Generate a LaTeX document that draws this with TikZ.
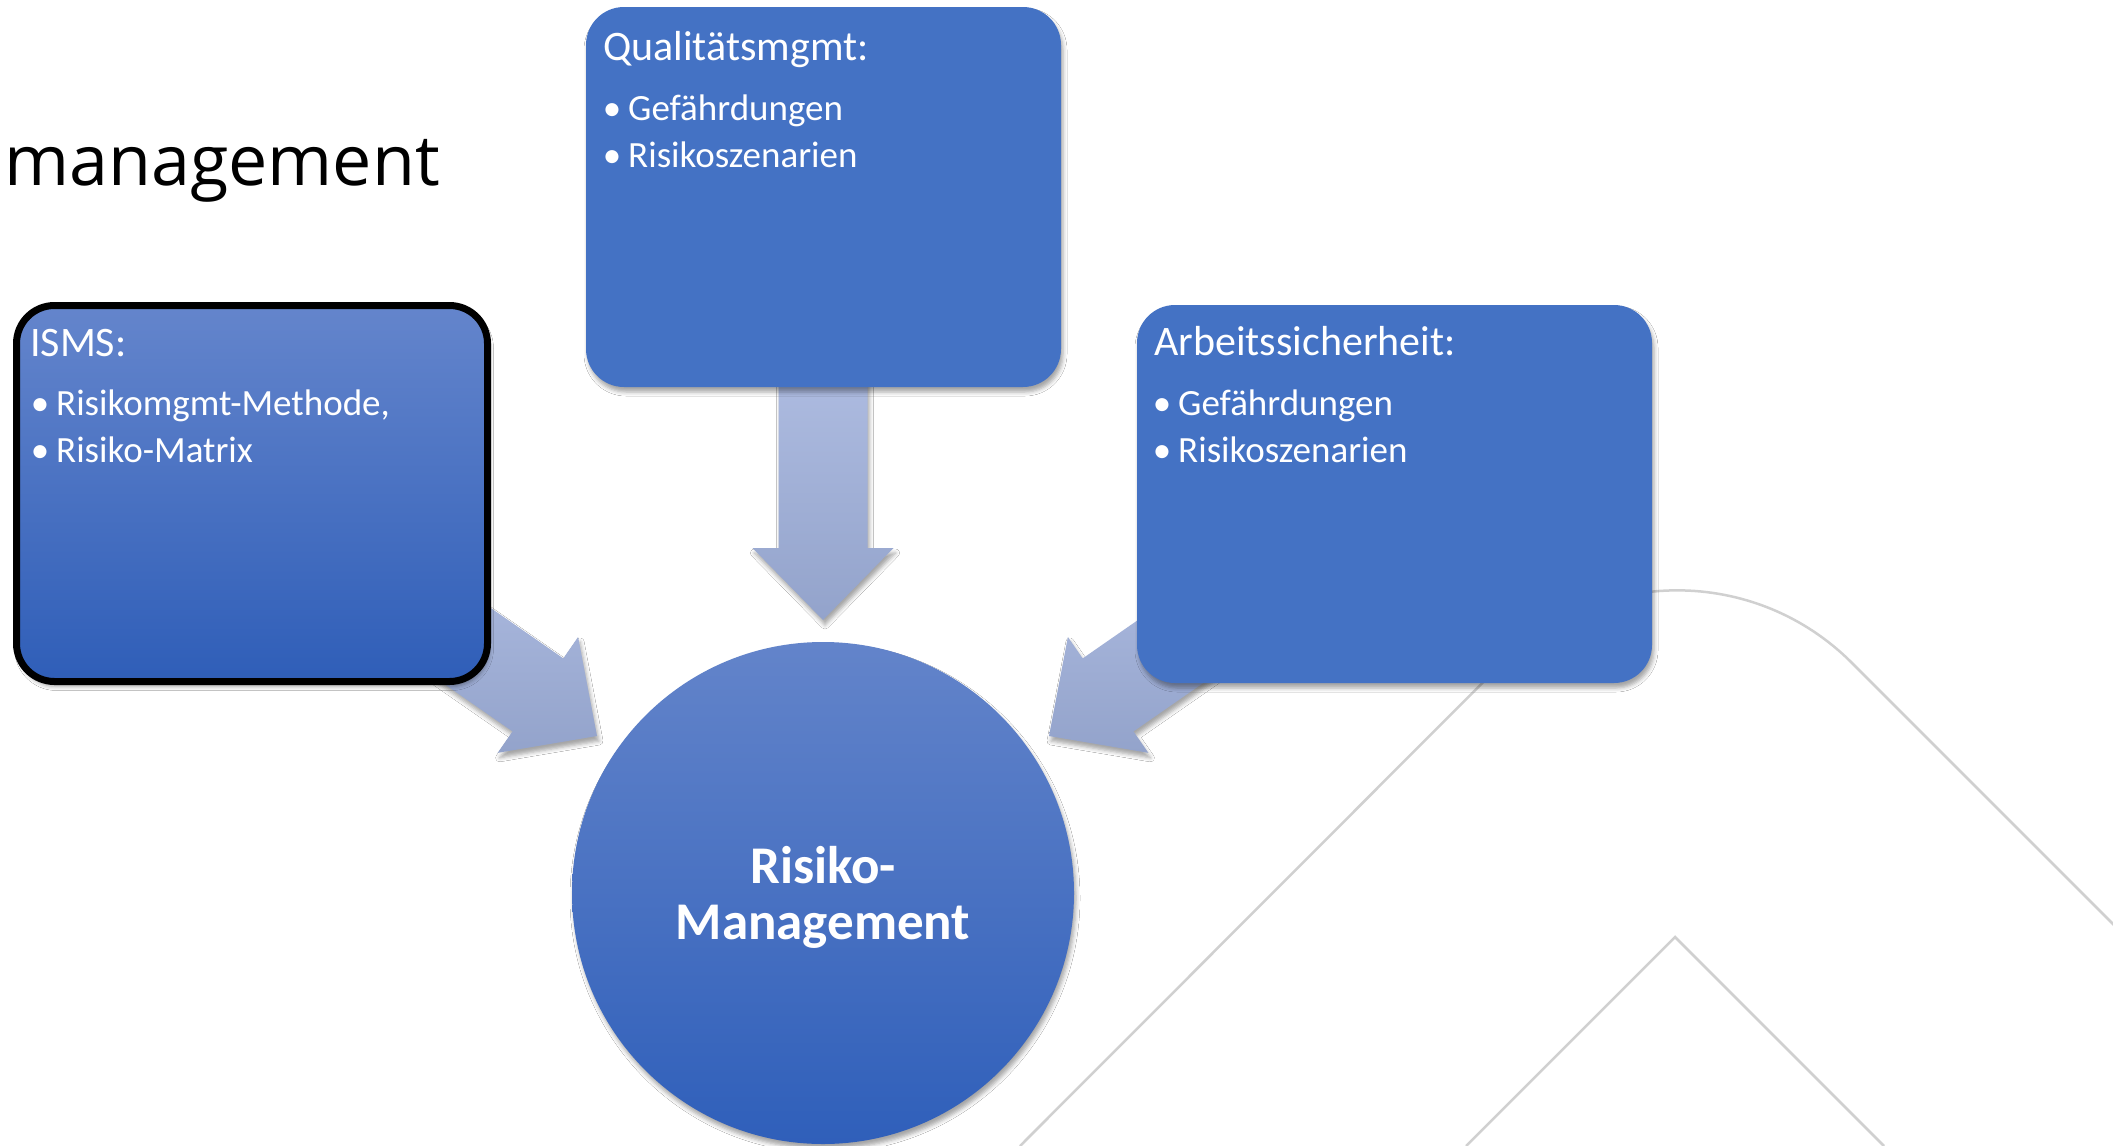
\documentclass[tikz,border=0pt]{standalone}
\usepackage{fontspec}
\setmainfont{Carlito}
\newfontfamily\titlefont{Open Sans}
\usetikzlibrary{shadows.blur}
\definecolor{pblue}{HTML}{4472C4}
\definecolor{gtop}{HTML}{6485CC}
\definecolor{gbot}{HTML}{2F5EB8}
\definecolor{ctop}{HTML}{6384CA}
\definecolor{cbot}{HTML}{2F5FBA}
\definecolor{atop}{HTML}{ADBBE0}
\definecolor{abot}{HTML}{93A3CB}
\definecolor{bgline}{HTML}{D0D0D0}
\newcommand\itembul{\makebox[0pt]{\textbullet}\hspace{16pt}}
\begin{document}
\begin{tikzpicture}[x=1pt,y=-1pt,
  softshadow/.style={blur shadow={shadow xshift=2pt,shadow yshift=-5pt,shadow blur radius=4pt,shadow opacity=35}},
  boxbase/.style={rectangle,rounded corners=38pt,inner sep=0pt,softshadow},
  plainbox/.style={boxbase,fill=pblue},
  gradbox/.style={boxbase,draw=black,line width=7pt,top color=gtop,bottom color=gbot},
  hub/.style={circle,inner sep=0pt,minimum size=502pt,top color=ctop,bottom color=cbot,softshadow},
  blockarrow/.style={top color=atop,bottom color=abot,softshadow},
  bgpath/.style={draw=bgline,line width=2.5pt},
  headtxt/.style={font=\fontsize{42}{50}\selectfont,text=white,inner sep=0pt,anchor=base west},
  itemtxt/.style={font=\fontsize{37}{44}\selectfont,text=white,inner sep=0pt,anchor=base west},
  hubtxt/.style={font=\bfseries\fontsize{53}{60}\selectfont,text=white,inner sep=0pt,anchor=base},
]
\fill[white] (0,0) rectangle (2113,1146);
\useasboundingbox (0,0) rectangle (2113,1146);

% background decoration
\path[bgpath,rounded corners=247pt] (1020,1146) -- (1677,488) -- (2250,1061);
\path[bgpath] (1466,1146) -- (1675,937) -- (1884,1146);

% title fragment
\node[font=\titlefont\fontsize{70}{80}\selectfont,inner sep=0pt,anchor=base east] (title) at (440,185) {management};

% block arrows
\path[blockarrow] (778.5,375) -- (867.5,375) -- (867.5,548) -- (893.5,548) -- (823,620)
  -- (752.5,548) -- (778.5,548) -- cycle;
\path[blockarrow] (408.9,551.2) -- (563.3,658.4) -- (578.1,637.0) -- (597,736)
  -- (497.7,752.8) -- (512.5,731.4) -- (358.1,624.2) -- cycle;
\path[blockarrow] (1237.1,551.2) -- (1082.7,658.4) -- (1067.9,637.0) -- (1049,736)
  -- (1148.3,752.8) -- (1133.5,731.4) -- (1287.9,624.2) -- cycle;

% boxes
\node[plainbox,minimum width=475pt,minimum height=380pt] (qm) at (823.5,197) {};
\node[plainbox,minimum width=515pt,minimum height=378pt] (as) at (1394.5,494) {};
\node[gradbox,minimum width=471pt,minimum height=376pt] (isms) at (252,493.5) {};
\node[hub] (rm) at (823,893) {};

% texts
\node[headtxt] (qmh) at (603,60) {Qualitätsmgmt:};
\node[itemtxt] (qm1) at (612,120) {\itembul Gefährdungen};
\node[itemtxt] (qm2) at (612,167) {\itembul Risikoszenarien};

\node[headtxt] (ash) at (1154,355) {Arbeitssicherheit:};
\node[itemtxt] (as1) at (1162,415) {\itembul Gefährdungen};
\node[itemtxt] (as2) at (1162,462) {\itembul Risikoszenarien};

\node[headtxt] (ismsh) at (30,356) {ISMS:};
\node[itemtxt] (isms1) at (40,415) {\itembul Risikomgmt-Methode,};
\node[itemtxt] (isms2) at (40,462) {\itembul Risiko-Matrix};

\node[hubtxt] (rmt1) at (823,883) {Risiko-};
\node[hubtxt] (rmt2) at (823,939) {Management};
\end{tikzpicture}
\end{document}
